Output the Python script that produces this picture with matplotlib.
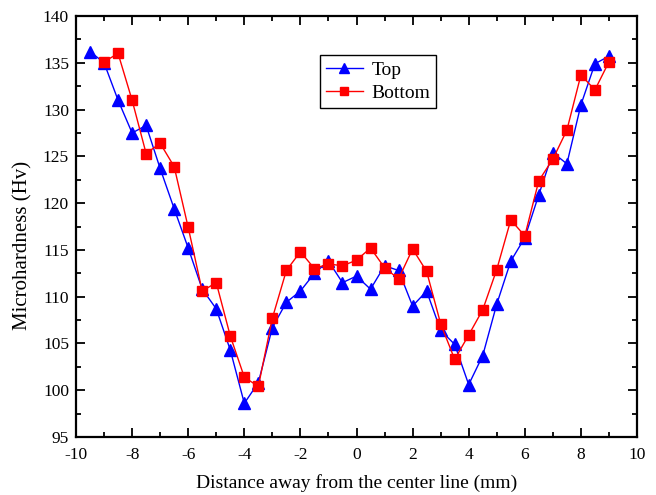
import matplotlib
matplotlib.use("Agg")
import matplotlib.pyplot as plt
import numpy as np
from matplotlib.ticker import MultipleLocator

plt.rcParams['font.family'] = ['Liberation Serif', 'DejaVu Serif']
plt.rcParams['axes.unicode_minus'] = False

x_top = np.arange(-9.5, 9.01, 0.5)
top = [136.2, 135.0, 131.0, 127.5, 128.3, 123.7, 119.4, 115.2, 110.8, 108.7,
       104.3, 98.6, 100.8, 106.7, 109.4, 110.6, 112.5, 113.8, 111.5, 112.2,
       110.8, 113.3, 112.8, 109.0, 110.6, 106.4, 104.9, 100.6, 103.7, 109.2,
       113.8, 116.3, 120.9, 125.4, 124.2, 130.5, 134.9, 135.7]

x_bottom = np.arange(-9.0, 9.01, 0.5)
bottom = [135.1, 136.0, 131.0, 125.3, 126.4, 123.9, 117.4, 110.6, 111.5, 105.8,
          101.4, 100.4, 107.7, 112.8, 114.8, 113.0, 113.5, 113.3, 113.9, 115.2,
          113.1, 111.9, 115.1, 112.7, 107.1, 103.3, 105.9, 108.6, 112.9, 118.2,
          116.5, 122.4, 124.7, 127.8, 133.7, 132.1, 135.1]

fig = plt.figure(figsize=(6.56, 4.95), dpi=100)
ax = fig.add_axes([76 / 656, 58 / 495, 561 / 656, 421 / 495])

ax.plot(x_top, top, color='blue', marker='^', markersize=8, lw=1,
        label='Top')
ax.plot(x_bottom, bottom, color='red', marker='s', markersize=7, lw=1,
        label='Bottom')

ax.set_xlim(-10, 10)
ax.set_ylim(95, 140)
ax.xaxis.set_major_locator(MultipleLocator(2))
ax.xaxis.set_minor_locator(MultipleLocator(1))
ax.yaxis.set_major_locator(MultipleLocator(5))
ax.yaxis.set_minor_locator(MultipleLocator(2.5))
ax.tick_params(which='both', direction='in', top=True, right=True,
               labelsize=12.5, width=1.3)
ax.tick_params(which='major', length=6.5)
ax.tick_params(which='minor', length=3.6)
ax.tick_params(axis='x', pad=7)
ax.tick_params(axis='y', pad=5)
for s in ax.spines.values():
    s.set_linewidth(1.6)

ax.set_xlabel('Distance away from the center line (mm)', fontsize=14)
ax.xaxis.set_label_coords(0.5, -0.088)
ax.set_ylabel('Microhardness (Hv)', fontsize=15)
ax.yaxis.set_label_coords(-0.078, 0.456)

leg = ax.legend(loc='upper left', bbox_to_anchor=(0.435, 0.907),
                fontsize=14, fancybox=False, edgecolor='black',
                framealpha=1, handlelength=1.9, borderpad=0.3,
                handletextpad=0.45, labelspacing=0.3, markerscale=0.85,
                borderaxespad=0)
leg.get_frame().set_linewidth(1.0)

fig.savefig('out.png', dpi=100)
